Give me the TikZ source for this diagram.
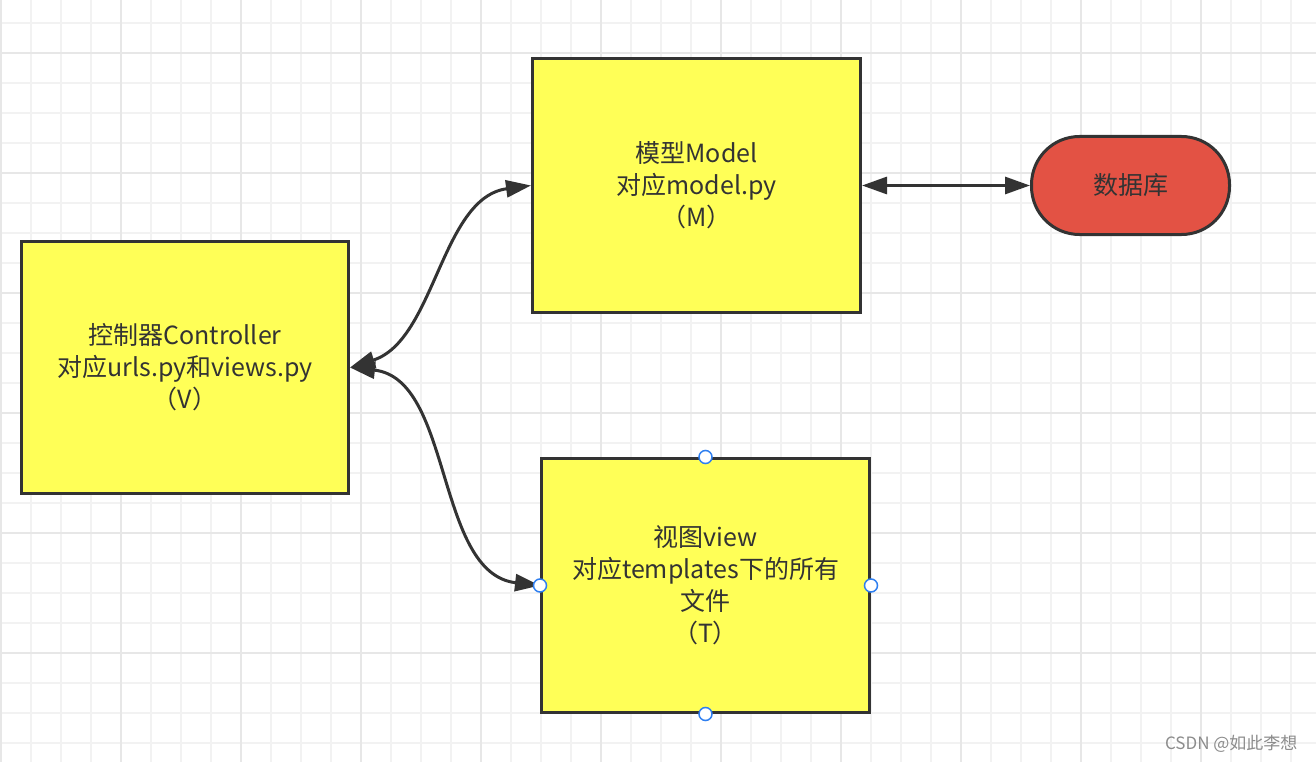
\documentclass[tikz,border=0pt]{standalone}
\usepackage{fontspec}
\newfontfamily\cjk{Noto Sans CJK SC}
\usetikzlibrary{arrows.meta}

\definecolor{gridminor}{HTML}{F2F2F2}
\definecolor{gridmajor}{HTML}{E7E7E7}
\definecolor{ink}{HTML}{333333}
\definecolor{boxyellow}{HTML}{FFFF57}
\definecolor{dbred}{HTML}{E35244}
\definecolor{handleblue}{HTML}{2F7FF0}

\begin{document}
\begin{tikzpicture}[x=1pt, y=-1pt,
		block/.style = {draw = ink, line width = 3pt, fill = boxyellow, align = center,
			text = ink, inner sep = 0pt, font = \cjk\fontsize{25}{32}\selectfont},
		link/.style = {draw = ink, line width = 3pt, {Triangle[length = 25pt, width = 17pt]}-{Triangle[length = 25pt, width = 17pt]}}]
	\useasboundingbox (0, 0) rectangle (1316, 762);
	\fill[white] (0, 0) rectangle (1316, 762);
	% grid
	\foreach \x in {1, 31, ..., 1316} \draw[gridminor, line width = 1.5pt] (\x, 0) -- (\x, 762);
	\foreach \y in {23, 53, ..., 762} \draw[gridminor, line width = 1.5pt] (0, \y) -- (1316, \y);
	\foreach \x in {1, 121, ..., 1316} \draw[gridmajor, line width = 2pt] (\x, 0) -- (\x, 762);
	\foreach \y in {53, 173, ..., 762} \draw[gridmajor, line width = 2pt] (0, \y) -- (1316, \y);

	% boxes
	\node[block, minimum width = 327pt, minimum height = 252pt] (ctrl) at (185, 367.5)
		{控制器Controller\\对应urls.py和views.py\\（V）};
	\node[block, minimum width = 328pt, minimum height = 254pt] (model) at (696.5, 185.5)
		{模型Model\\对应model.py\\（M）};
	\node[block, minimum width = 328pt, minimum height = 254pt] (view) at (705.5, 585.5)
		{视图view\\对应templates下的所有\\文件\\（T）};
	\node[block, fill = dbred, minimum width = 198pt, minimum height = 98pt, rounded corners = 48pt] (db) at (1130.5, 185.5)
		{数据库};

	% connectors
	\draw[link] (ctrl.east) .. controls +(85, -27) and +(-90, 12) .. (model.west);
	\draw[link] (ctrl.east) .. controls +(103, 11) and +(-105, -12) .. (view.west);
	\draw[link] (model.east) -- (db.west);

	% selection handles
	\foreach \a in {north, south, east, west}
		\filldraw[fill = white, draw = handleblue, line width = 1.5pt] (view.\a) circle (6.5);

	\node[text = black!45, font = \cjk\fontsize{17}{19}\selectfont, anchor = east] (mark) at (1301, 744) {CSDN @如此李想};
\end{tikzpicture}
\end{document}
